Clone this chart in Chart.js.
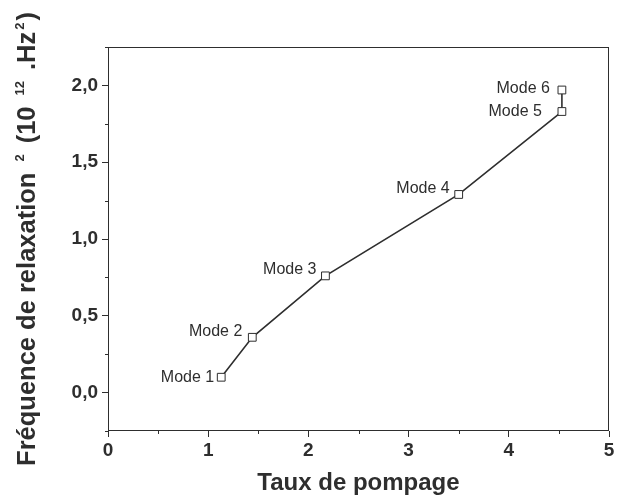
<!DOCTYPE html>
<html>
<head>
<meta charset="utf-8">
<script src="https://cdn.jsdelivr.net/npm/chart.js@4"></script>
<style>
  html, body { margin: 0; padding: 0; background: #fff; }
  #wrap { width: 627px; height: 499px; }
</style>
</head>
<body>
<div id="wrap"><canvas id="c" width="627" height="499"></canvas></div>
<script>
// values
const modeLabels = ["Mode 1", "Mode 2", "Mode 3", "Mode 4", "Mode 5", "Mode 6"];
const pumpRate = [1.13, 1.44, 2.17, 3.50, 4.53, 4.53];
const relaxFreqSq = [0.10, 0.36, 0.76, 1.29, 1.83, 1.97];
const xTickValues = [0, 1, 2, 3, 4, 5];
const yTickValues = [0, 0.5, 1.0, 1.5, 2.0];
const xMinorTicks = [0.5, 1.5, 2.5, 3.5, 4.5];
const yMinorTicks = [-0.25, 0.25, 0.75, 1.25, 1.75, 2.25];

// y title pieces: [text, isSuperscript, padding around it]
const yTitleParts = [
  ["Fréquence de relaxation", false, 0], ["2", true, 11], ["(10", false, 0],
  ["12", true, 11], [".Hz", false, 0], ["2", true, 2], [")", false, 0],
];

const ink = "#2e2e2e";
const fontFamily = "'Liberation Sans', Arial, sans-serif";

// label nudges (px) so text sits left of each marker like the original
const labelShift = [[-7, 0], [-10, -6], [-9, -6], [-9, -6], [-20, 0], [-12, -1]];

const frameAndMinor = {
  id: "frameAndMinor",
  afterDraw(chart) {
    const { ctx, chartArea: a, scales } = chart;
    ctx.save();
    ctx.strokeStyle = ink;
    ctx.lineWidth = 1;
    ctx.strokeRect(a.left + 0.5, a.top + 0.5, a.right - a.left - 1, a.bottom - a.top - 1);
    ctx.beginPath();
    for (const v of xMinorTicks) {
      const px = Math.round(scales.x.getPixelForValue(v)) + 0.5;
      ctx.moveTo(px, a.bottom);
      ctx.lineTo(px, a.bottom + 3);
    }
    for (const v of yMinorTicks) {
      const py = Math.round(scales.y.getPixelForValue(v)) + 0.5;
      ctx.moveTo(a.left, py);
      ctx.lineTo(a.left - 3, py);
    }
    ctx.stroke();

    // mode labels
    const meta = chart.getDatasetMeta(0);
    ctx.fillStyle = ink;
    ctx.font = "16px " + fontFamily;
    ctx.textAlign = "right";
    ctx.textBaseline = "middle";
    meta.data.forEach((pt, i) => {
      const [dx, dy] = labelShift[i];
      ctx.fillText(modeLabels[i], pt.x + dx, pt.y + dy);
    });

    // y axis title with superscripts
    const mainFont = "bold 25.5px " + fontFamily;
    const supFont = "bold 13px " + fontFamily;
    let total = 0;
    const widths = yTitleParts.map(([t, sup, pad]) => {
      ctx.font = sup ? supFont : mainFont;
      const w = ctx.measureText(t).width + 2 * pad;
      total += w;
      return w;
    });
    ctx.translate(a.left - 82, (a.top + a.bottom) / 2);
    ctx.rotate(-Math.PI / 2);
    ctx.textAlign = "left";
    ctx.textBaseline = "alphabetic";
    let cx = -total / 2;
    yTitleParts.forEach(([t, sup, pad], i) => {
      ctx.font = sup ? supFont : mainFont;
      ctx.fillText(t, cx + pad, sup ? -2 : 9);
      cx += widths[i];
    });
    ctx.restore();
  },
};

new Chart(document.getElementById("c"), {
  type: "scatter",
  data: {
    datasets: [{
      data: pumpRate.map((x, i) => ({ x, y: relaxFreqSq[i] })),
      showLine: true,
      borderColor: ink,
      borderWidth: 1.6,
      pointStyle: "rect",
      pointRadius: 5.5,
      pointBorderWidth: 1,
      pointBackgroundColor: "#fff",
      pointBorderColor: ink,
      tension: 0,
    }],
  },
  options: {
    responsive: false,
    animation: false,
    layout: { padding: { top: 47, right: 18, left: 0, bottom: 0 } },
    plugins: { legend: { display: false }, tooltip: { enabled: false } },
    scales: {
      x: {
        type: "linear",
        min: 0,
        max: 5,
        afterBuildTicks: (s) => { s.ticks = xTickValues.map((value) => ({ value })); },
        afterFit: (s) => { s.height = 68; },
        grid: { drawOnChartArea: false, tickLength: 6, color: ink, tickWidth: 1 },
        border: { display: false },
        ticks: { color: ink, padding: 2, maxRotation: 0, font: { family: fontFamily, size: 19, weight: "bold" } },
        title: {
          display: true,
          text: "Taux de pompage",
          color: ink,
          padding: { top: 0, bottom: 1 },
          font: { family: fontFamily, size: 24, weight: "bold" },
        },
      },
      y: {
        type: "linear",
        min: -0.25,
        max: 2.25,
        afterBuildTicks: (s) => { s.ticks = yTickValues.map((value) => ({ value })); },
        afterFit: (s) => { s.width = 108; },
        grid: { drawOnChartArea: false, tickLength: 6, color: ink, tickWidth: 1 },
        border: { display: false },
        ticks: {
          color: ink,
          padding: 4,
          font: { family: fontFamily, size: 19, weight: "bold" },
          callback: (v) => v.toFixed(1).replace(".", ","),
        },
        title: { display: false },
      },
    },
  },
  plugins: [frameAndMinor],
});
</script>
</body>
</html>
